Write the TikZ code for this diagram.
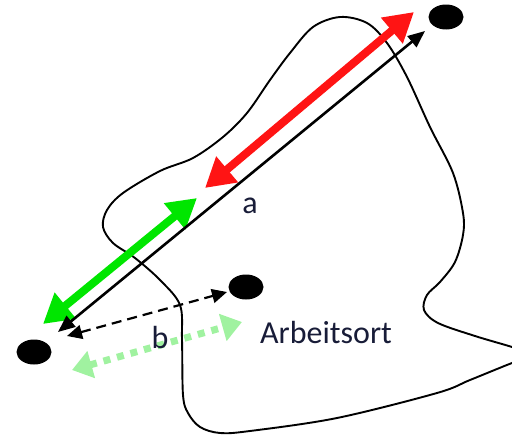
\documentclass[tikz,border=0pt]{standalone}
\usepackage{fontspec}
\setmainfont{Carlito}
\usetikzlibrary{arrows.meta,shapes.geometric}

\definecolor{arrowred}{RGB}{255,20,20}
\definecolor{arrowgreen}{RGB}{0,230,0}
\definecolor{palegreen}{RGB}{160,242,160}
\definecolor{labelnavy}{RGB}{24,28,56}

\tikzset{
  spot/.style={ellipse, fill=black, draw=none, inner sep=0pt,
               minimum width=35pt, minimum height=25pt},
  bigarrow/.style={line width=8pt, {Triangle[length=29pt,width=32pt]}-{Triangle[length=29pt,width=32pt]}},
  thinarrow/.style={black, line width=2.6pt, {Triangle[length=17pt,width=14pt]}-{Triangle[length=17pt,width=14pt]}},
  dashedarrow/.style={black, line width=2.2pt, dash pattern=on 10pt off 6pt,
               {Triangle[length=15pt,width=14pt]}-{Triangle[length=15pt,width=14pt]}},
  dottedarrow/.style={palegreen, line width=7pt, dash pattern=on 7pt off 7pt,
               {Triangle[length=20pt,width=27pt]}-{Triangle[length=20pt,width=27pt]}},
  txt/.style={text=labelnavy, inner sep=0pt, font=\fontsize{32}{36}\selectfont},
  outline/.style={black, line width=1.9pt}
}

\begin{document}
\begin{tikzpicture}[x=1pt,y=-1pt]
  \useasboundingbox (0,0) rectangle (512,439);
  \clip (0,0) rectangle (512,439);

  % region boundary
  \draw[outline] plot[smooth cycle, tension=0.55] coordinates {
    (340,17) (367,23) (387,43) (407,77) (430,127) (453,173) (463,213)
    (463,235) (455,262) (440,282) (427,295) (424,310) (438,323) (475,336)
    (512,347) (535,355) (512,363) (470,380) (437,393) (337,418) (250,431)
    (220,433) (200,427) (188,413) (183,395) (182,340) (180,305) (160,280)
    (135,258) (113,243) (103,227) (107,210) (123,193) (160,171) (193,158)
    (223,137) (247,113) (270,80) (290,53) (313,27)};

  % points
  \node[spot] (top) at (446,17) {};
  \node[spot] (left) at (34,352) {};
  \node[spot] (mid) at (246,287) {};

  % arrow end points
  \coordinate (redS) at (205,188);
  \coordinate (redE) at (414,12);
  \coordinate (grnS) at (43,324);
  \coordinate (grnE) at (197,198);
  \coordinate (aS) at (58,332);
  \coordinate (aE) at (425,31);
  \coordinate (bS) at (67,336);
  \coordinate (bE) at (227,292);
  \coordinate (cS) at (72,370);
  \coordinate (cE) at (242,322);

  % distances
  \draw[bigarrow, arrowred] (redS) -- (redE);
  \draw[bigarrow, arrowgreen] (grnS) -- (grnE);
  \draw[thinarrow] (aS) -- (aE);
  \draw[dottedarrow] (cS) -- (cE);
  \draw[dashedarrow] (bS) -- (bE);

  % labels
  \node[txt] (la) at (250,206) {a};
  \node[txt] (lb) at (160,337) {b};
  \node[txt, anchor=base west] (work) at (260,343) {Arbeitsort};
\end{tikzpicture}
\end{document}
